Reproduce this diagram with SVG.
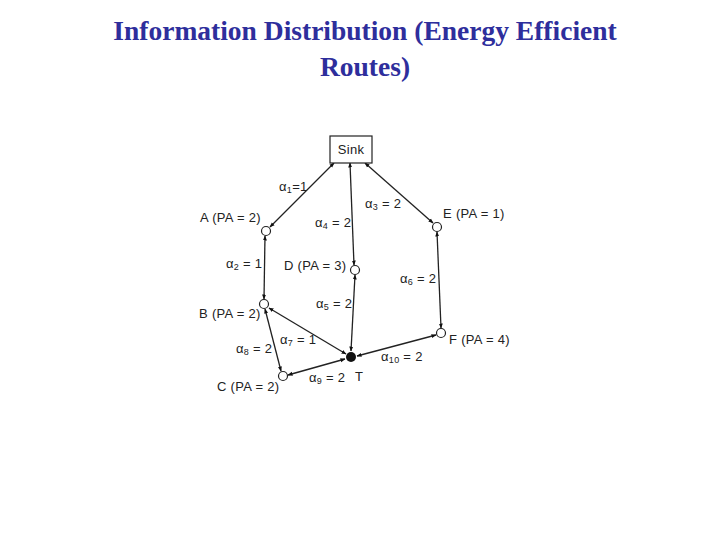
<svg xmlns="http://www.w3.org/2000/svg" width="720" height="540" viewBox="0 0 720 540">
<defs>
<marker id="ah" viewBox="0 0 10 10" refX="9" refY="5" markerWidth="5" markerHeight="5" orient="auto-start-reverse" markerUnits="userSpaceOnUse">
<path d="M0,1 L10,5 L0,9 z" fill="#111"/>
</marker>
<style>
.title{font-family:"Liberation Serif","Times New Roman",serif;font-size:27.5px;font-weight:bold;fill:#2e2e9c;text-anchor:middle}
.lbl{font-family:"Liberation Sans",Arial,sans-serif;font-size:13px;fill:#222;letter-spacing:0.3px}
.edge{stroke:#222;stroke-width:1.3;fill:none;marker-start:url(#ah);marker-end:url(#ah)}
.node{fill:#fff;stroke:#222;stroke-width:1.2}
.sub{font-size:9px}
</style>
</defs>
<rect width="720" height="540" fill="#fff"/>
<text class="title" x="365" y="40">Information Distribution (Energy Efficient</text>
<text class="title" x="365" y="76">Routes)</text>

<g id="connectors">
<line class="edge" x1="334" y1="163" x2="270" y2="227"/>
<line class="edge" x1="350" y1="163" x2="354" y2="265"/>
<line class="edge" x1="365" y1="163" x2="433" y2="223"/>
<line class="edge" x1="265" y1="236" x2="264" y2="299"/>
<line class="edge" x1="355" y1="275" x2="351" y2="351"/>
<line class="edge" x1="437" y1="232" x2="441" y2="328"/>
<line class="edge" x1="269" y1="308" x2="346" y2="354"/>
<line class="edge" x1="265" y1="309" x2="281" y2="371"/>
<line class="edge" x1="288" y1="375" x2="345" y2="359"/>
<line class="edge" x1="357" y1="356" x2="436" y2="335"/>
<text class="lbl" x="279" y="191">α<tspan class="sub" dy="2">1</tspan><tspan dy="-2">=1</tspan></text>
<text class="lbl" x="315" y="227">α<tspan class="sub" dy="2">4</tspan><tspan dy="-2"> = 2</tspan></text>
<text class="lbl" x="365" y="208">α<tspan class="sub" dy="2">3</tspan><tspan dy="-2"> = 2</tspan></text>
<text class="lbl" x="226" y="268">α<tspan class="sub" dy="2">2</tspan><tspan dy="-2"> = 1</tspan></text>
<text class="lbl" x="316" y="308">α<tspan class="sub" dy="2">5</tspan><tspan dy="-2"> = 2</tspan></text>
<text class="lbl" x="400" y="283">α<tspan class="sub" dy="2">6</tspan><tspan dy="-2"> = 2</tspan></text>
<text class="lbl" x="280" y="344">α<tspan class="sub" dy="2">7</tspan><tspan dy="-2"> = 1</tspan></text>
<text class="lbl" x="236" y="353">α<tspan class="sub" dy="2">8</tspan><tspan dy="-2"> = 2</tspan></text>
<text class="lbl" x="309" y="382">α<tspan class="sub" dy="2">9</tspan><tspan dy="-2"> = 2</tspan></text>
<text class="lbl" x="381" y="361">α<tspan class="sub" dy="2">10</tspan><tspan dy="-2"> = 2</tspan></text>
</g>

<g id="sink">
<rect x="330" y="136" width="42" height="27" fill="#fff" stroke="#222" stroke-width="1.2"/>
<text class="lbl" x="351" y="154" text-anchor="middle">Sink</text>
</g>
<g id="nodeA">
<circle class="node" cx="266" cy="231" r="4.5"/>
<text class="lbl" x="200" y="222">A (PA = 2)</text>
</g>
<g id="nodeE">
<circle class="node" cx="437" cy="227" r="4.5"/>
<text class="lbl" x="443" y="218">E (PA = 1)</text>
</g>
<g id="nodeD">
<circle class="node" cx="355" cy="270" r="4.5"/>
<text class="lbl" x="284" y="270">D (PA = 3)</text>
</g>
<g id="nodeB">
<circle class="node" cx="264" cy="304" r="4.5"/>
<text class="lbl" x="199" y="318">B (PA = 2)</text>
</g>
<g id="nodeT">
<circle cx="351" cy="357" r="5" fill="#111"/>
<text class="lbl" x="355" y="381">T</text>
</g>
<g id="nodeC">
<circle class="node" cx="283" cy="376" r="4.5"/>
<text class="lbl" x="217" y="391">C (PA = 2)</text>
</g>
<g id="nodeF">
<circle class="node" cx="441" cy="333" r="4.5"/>
<text class="lbl" x="449" y="344">F (PA = 4)</text>
</g>
</svg>
